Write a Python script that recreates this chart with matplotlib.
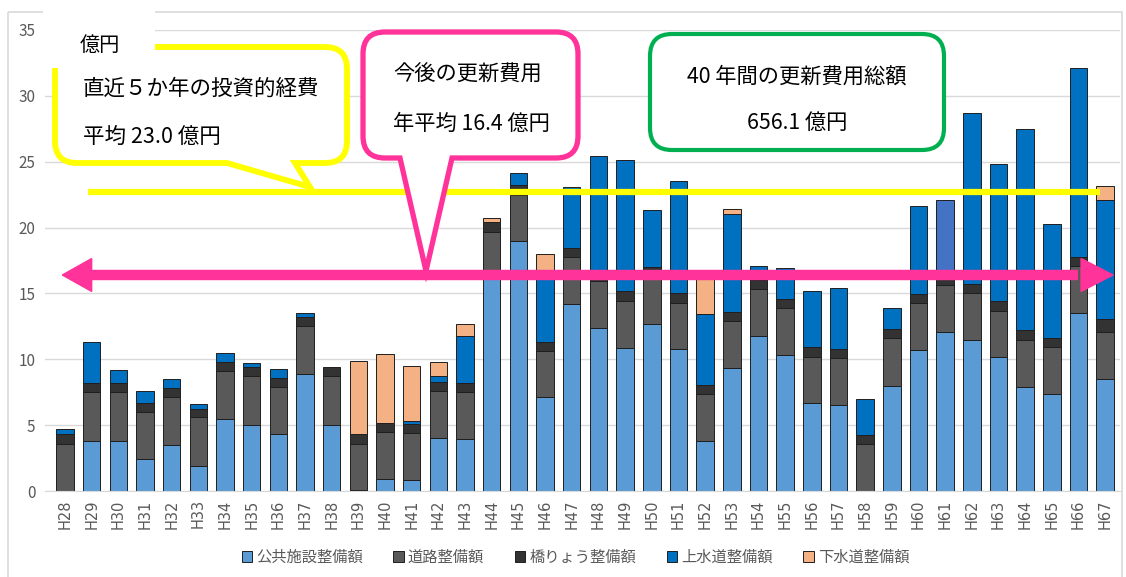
import matplotlib
matplotlib.use("Agg")
import matplotlib.pyplot as plt
import numpy as np
from matplotlib.path import Path
from matplotlib.patches import PathPatch, Rectangle, Patch, Polygon
from matplotlib.transforms import Affine2D

plt.rcParams['font.family'] = ['Noto Sans CJK JP', 'DejaVu Sans']

# ---------------- data ----------------
years = [f"H{n}" for n in range(28, 68)]

public = [0, 3.8, 3.8, 2.4, 3.5, 1.9, 5.5, 5.0, 4.3, 8.9,
          5.0, 0.05, 0.9, 0.8, 4.0, 3.95, 16.1, 18.95, 7.1, 14.2,
          12.35, 10.85, 12.7, 10.75, 3.8, 9.35, 11.8, 10.35, 6.65, 6.55,
          0, 8.0, 10.7, 12.05, 11.45, 10.15, 7.9, 7.35, 13.55, 8.5]
road = [3.6, 3.7, 3.7, 3.6, 3.6, 3.7, 3.6, 3.7, 3.6, 3.6,
        3.7, 3.55, 3.6, 3.6, 3.6, 3.55, 3.6, 3.55, 3.55, 3.55,
        3.6, 3.6, 3.7, 3.55, 3.55, 3.55, 3.55, 3.55, 3.55, 3.55,
        3.55, 3.6, 3.55, 3.6, 3.55, 3.55, 3.6, 3.6, 3.55, 3.6]
bridge = [0.7, 0.7, 0.7, 0.7, 0.7, 0.6, 0.7, 0.7, 0.7, 0.7,
          0.7, 0.7, 0.7, 0.7, 0.7, 0.7, 0.75, 0.7, 0.7, 0.7,
          0.65, 0.7, 0.6, 0.7, 0.7, 0.7, 0.7, 0.7, 0.7, 0.7,
          0.7, 0.7, 0.7, 0.7, 0.7, 0.7, 0.7, 0.7, 0.7, 0.95]
water = [0.4, 3.1, 1.0, 0.9, 0.7, 0.4, 0.7, 0.3, 0.7, 0.3,
         0, 0, 0, 0.2, 0.4, 3.6, 0, 0.95, 4.95, 4.6,
         8.8, 10.0, 4.3, 8.5, 5.4, 7.4, 1.0, 2.3, 4.25, 4.6,
         2.75, 1.6, 6.7, 5.75, 13.0, 10.45, 15.25, 8.65, 14.35, 9.05]
sewer = [0, 0, 0, 0, 0, 0, 0, 0, 0, 0,
         0, 5.6, 5.2, 4.2, 1.1, 0.85, 0.3, 0, 1.7, 0,
         0, 0, 0, 0, 2.85, 0.4, 0, 0, 0, 0,
         0, 0, 0, 0, 0, 0, 0, 0, 0, 1.05]

series_names = ["公共施設整備額", "道路整備額", "橋りょう整備額", "上水道整備額", "下水道整備額"]
series_values = [public, road, bridge, water, sewer]

past_avg_label = "平均 23.0 億円"
future_avg_label = "年平均 16.4 億円"
total_label = "656.1 億円"
future_avg = 16.4
past_line_level = 22.7

# ---------------- style ----------------
colors = ["#5B9BD5", "#595959", "#333333", "#0070C0", "#F4B183"]
highlight_water = {"H61": "#4472C4"}

W, H = 1126, 577
fig = plt.figure(figsize=(W / 100, H / 100), dpi=100)
fig.patch.set_facecolor("white")
ax = fig.add_axes([45 / W, (H - 491) / H, 1075 / W, 461 / H])

x = np.arange(len(years))
bottom = np.zeros(len(years))
for i, (name, vals) in enumerate(zip(series_names, series_values)):
    vals = np.array(vals, dtype=float)
    c = [colors[i]] * len(years)
    if i == 3:
        c = [highlight_water.get(y, colors[i]) for y in years]
    mask = vals > 0
    ax.bar(x[mask], vals[mask], bottom=bottom[mask], width=0.66, color=np.array(c)[mask],
           edgecolor="#1f1f1f", linewidth=0.7, zorder=2)
    bottom += vals

ax.set_xlim(-0.75, 39.56)
ax.set_ylim(0, 35)
ax.set_yticks(range(0, 36, 5))
ax.set_xticks(x)
ax.set_xticklabels(years, rotation=90, fontsize=10.5, color="#595959", family=['DejaVu Sans'])
ax.tick_params(axis='y', labelsize=11, labelcolor="#595959", length=0, pad=7)
ax.tick_params(axis='x', length=0, pad=6)
ax.grid(axis='y', color="#D9D9D9", linewidth=1, zorder=0)
ax.set_axisbelow(True)
for s in ["left", "right", "top"]:
    ax.spines[s].set_visible(False)
ax.spines["bottom"].set_color("#D9D9D9")

# pixel transform (y down)
T = Affine2D().scale(1 / W, -1 / H).translate(0, 1) + fig.transFigure

# outer chart border
fig.patches.append(Rectangle((8, 12), 1114, 570, transform=T, fill=False,
                             edgecolor="#D9D9D9", linewidth=1.2, zorder=0))


def callout(x0, y0, x1, y1, r, tail=None):
    v, c = [], []
    v.append((x0 + r, y0)); c.append(Path.MOVETO)
    v.append((x1 - r, y0)); c.append(Path.LINETO)
    v += [(x1, y0), (x1, y0 + r)]; c += [Path.CURVE3] * 2
    v.append((x1, y1 - r)); c.append(Path.LINETO)
    v += [(x1, y1), (x1 - r, y1)]; c += [Path.CURVE3] * 2
    if tail:
        bl, br, tx, ty = tail
        v += [(br, y1), (tx, ty), (bl, y1)]; c += [Path.LINETO] * 3
    v.append((x0 + r, y1)); c.append(Path.LINETO)
    v += [(x0, y1), (x0, y1 - r)]; c += [Path.CURVE3] * 2
    v.append((x0, y0 + r)); c.append(Path.LINETO)
    v += [(x0, y0), (x0 + r, y0)]; c += [Path.CURVE3] * 2
    v.append((x0 + r, y0)); c.append(Path.CLOSEPOLY)
    return Path(v, c)


# average lines
ax.hlines(past_line_level, 0.85, 38.8, color="#FFFF00", linewidth=4.5, zorder=4)
ax.plot([0.9, 38.0], [future_avg, future_avg], color="#FF3399", linewidth=7.5,
        solid_capstyle="butt", zorder=4)
for tip, base in [(-0.1, 1.0), (39.3, 38.1)]:
    ax.add_patch(Polygon([(tip, future_avg), (base, future_avg + 1.25), (base, future_avg - 1.25)],
                         closed=True, color="#FF3399", zorder=4, clip_on=False))

# yellow callout
fig.patches.append(PathPatch(callout(55, 47, 347, 163, 22, tail=(227, 295, 310, 187)),
                             transform=T, facecolor="white", edgecolor="#FFFF00",
                             linewidth=4.2, zorder=5))
# white unit box
fig.patches.append(Rectangle((43, 8), 112, 60, transform=T, facecolor="white",
                             edgecolor="none", zorder=6))
fig.text(80, 45, "億円", transform=T, fontsize=14.5, va="center", ha="left", zorder=7)
fig.text(83, 89, "直近５か年の投資的経費", transform=T, fontsize=15.5, va="center", ha="left", zorder=7)
fig.text(83, 137, past_avg_label, transform=T, fontsize=15.5, va="center", ha="left", zorder=7)

# pink callout
fig.patches.append(PathPatch(callout(363, 32, 578, 158, 22, tail=(400, 452, 426, 271)),
                             transform=T, facecolor="white", edgecolor="#FF3399",
                             linewidth=3.8, zorder=5))
fig.text(393, 75, "今後の更新費用", transform=T, fontsize=15.3, va="center", ha="left", zorder=7)
fig.text(393, 124, future_avg_label, transform=T, fontsize=15.3, va="center", ha="left", zorder=7)

# green box
fig.patches.append(PathPatch(callout(650, 34, 944, 150, 22), transform=T, facecolor="white",
                             edgecolor="#00B050", linewidth=3.0, zorder=5))
fig.text(797, 77, "40 年間の更新費用総額", transform=T, fontsize=15.3, va="center", ha="center", zorder=7)
fig.text(797, 123, total_label, transform=T, fontsize=15.3, va="center", ha="center", zorder=7)

# legend
handles = [Patch(facecolor=colors[i], edgecolor="#1f1f1f", linewidth=0.7) for i in range(5)]
leg = fig.legend(handles, series_names, loc="center", bbox_to_anchor=(0.511, 1 - 557 / H),
                 ncol=5, frameon=False, fontsize=11, handlelength=0.7, handleheight=0.7,
                 handletextpad=0.25, columnspacing=2.0)
for t in leg.get_texts():
    t.set_color("#595959")

fig.savefig("out.png", dpi=100, facecolor="white")
